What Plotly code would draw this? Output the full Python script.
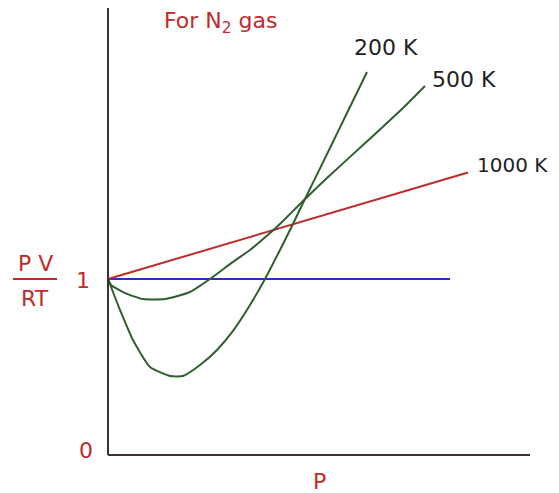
import plotly.graph_objects as go

# Data (P in arbitrary units, Z = PV/RT)
p_200 = [0, 0.12, 0.25, 0.42, 0.62, 0.75, 0.92, 1.09, 1.25, 1.42, 1.57, 1.72, 1.84, 1.95, 2.22, 2.39, 2.59]
z_200 = [1.0, 0.824, 0.653, 0.5, 0.449, 0.449, 0.511, 0.597, 0.705, 0.852, 1.0, 1.165, 1.301, 1.432, 1.744, 1.943, 2.176]

p_500 = [0, 0.03, 0.17, 0.35, 0.57, 0.82, 1.02, 1.25, 1.42, 1.62, 1.75, 1.92, 2.19, 2.55, 2.95, 3.17]
z_500 = [1.0, 0.966, 0.920, 0.886, 0.886, 0.926, 1.0, 1.097, 1.165, 1.261, 1.330, 1.426, 1.574, 1.761, 1.972, 2.097]

p_1000 = [0, 3.6]
z_1000 = [1.0, 1.605]

p_ideal = [0, 3.42]
z_ideal = [1.0, 1.0]

labels = ["200 K", "500 K", "1000 K"]

RED = "#bf2b2b"
GREEN = "#2f5f2f"
BLUE = "#2b2bd0"
AXIS = "#3a3232"
FONT = "DejaVu Sans, sans-serif"
FS = 22

fig = go.Figure()
fig.add_trace(go.Scatter(x=p_ideal, y=z_ideal, mode="lines", line=dict(color=BLUE, width=2)))
fig.add_trace(go.Scatter(x=p_1000, y=z_1000, mode="lines", line=dict(color=RED, width=2)))
fig.add_trace(go.Scatter(x=p_500, y=z_500, mode="lines", line=dict(color=GREEN, width=2, shape="spline", smoothing=0.5)))
fig.add_trace(go.Scatter(x=p_200, y=z_200, mode="lines", line=dict(color=GREEN, width=2, shape="spline", smoothing=0.5)))

# axes
fig.add_shape(type="line", x0=0, x1=0, y0=0, y1=2.54, line=dict(color=AXIS, width=2))
fig.add_shape(type="line", x0=0, x1=4.22, y0=0, y1=0, line=dict(color=AXIS, width=2))
# fraction bar
fig.add_shape(type="line", x0=-0.95, x1=-0.51, y0=1.0, y1=1.0, line=dict(color=RED, width=2))

ann = []
def add(text, x, y, color, xanchor="center", yanchor="middle", size=FS):
    ann.append(dict(text=text, x=x, y=y, xref="x", yref="y", showarrow=False,
                    xanchor=xanchor, yanchor=yanchor, font=dict(color=color, size=size, family=FONT)))

add(labels[0], 2.44, 2.313, "#222222", xanchor="left")
add(labels[1], 3.22, 2.131, "#222222", xanchor="left")
add(labels[2], 3.67, 1.648, "#222222", xanchor="left", size=20)
add("For N<sub>2</sub> gas", 0.54, 2.46, RED, xanchor="left")
add("1", -0.16, 0.989, RED, xanchor="right")
add("0", -0.13, 0.023, RED, xanchor="right")
add("P", 2.11, -0.153, RED)
add("P V", -0.73, 1.09, RED)
add("RT", -0.73, 0.89, RED)
fig.update_layout(annotations=ann)

# figure sits 8px in from the page corner; ranges map data onto the reference pixels
fig.update_layout(
    width=551, height=485,
    margin=dict(l=0, r=0, t=0, b=0),
    paper_bgcolor="white", plot_bgcolor="white",
    showlegend=False,
    xaxis=dict(range=[-1.00, 4.51], visible=False),
    yaxis=dict(range=[-38/176, 447/176], visible=False),
)
fig.write_html("out.html")
